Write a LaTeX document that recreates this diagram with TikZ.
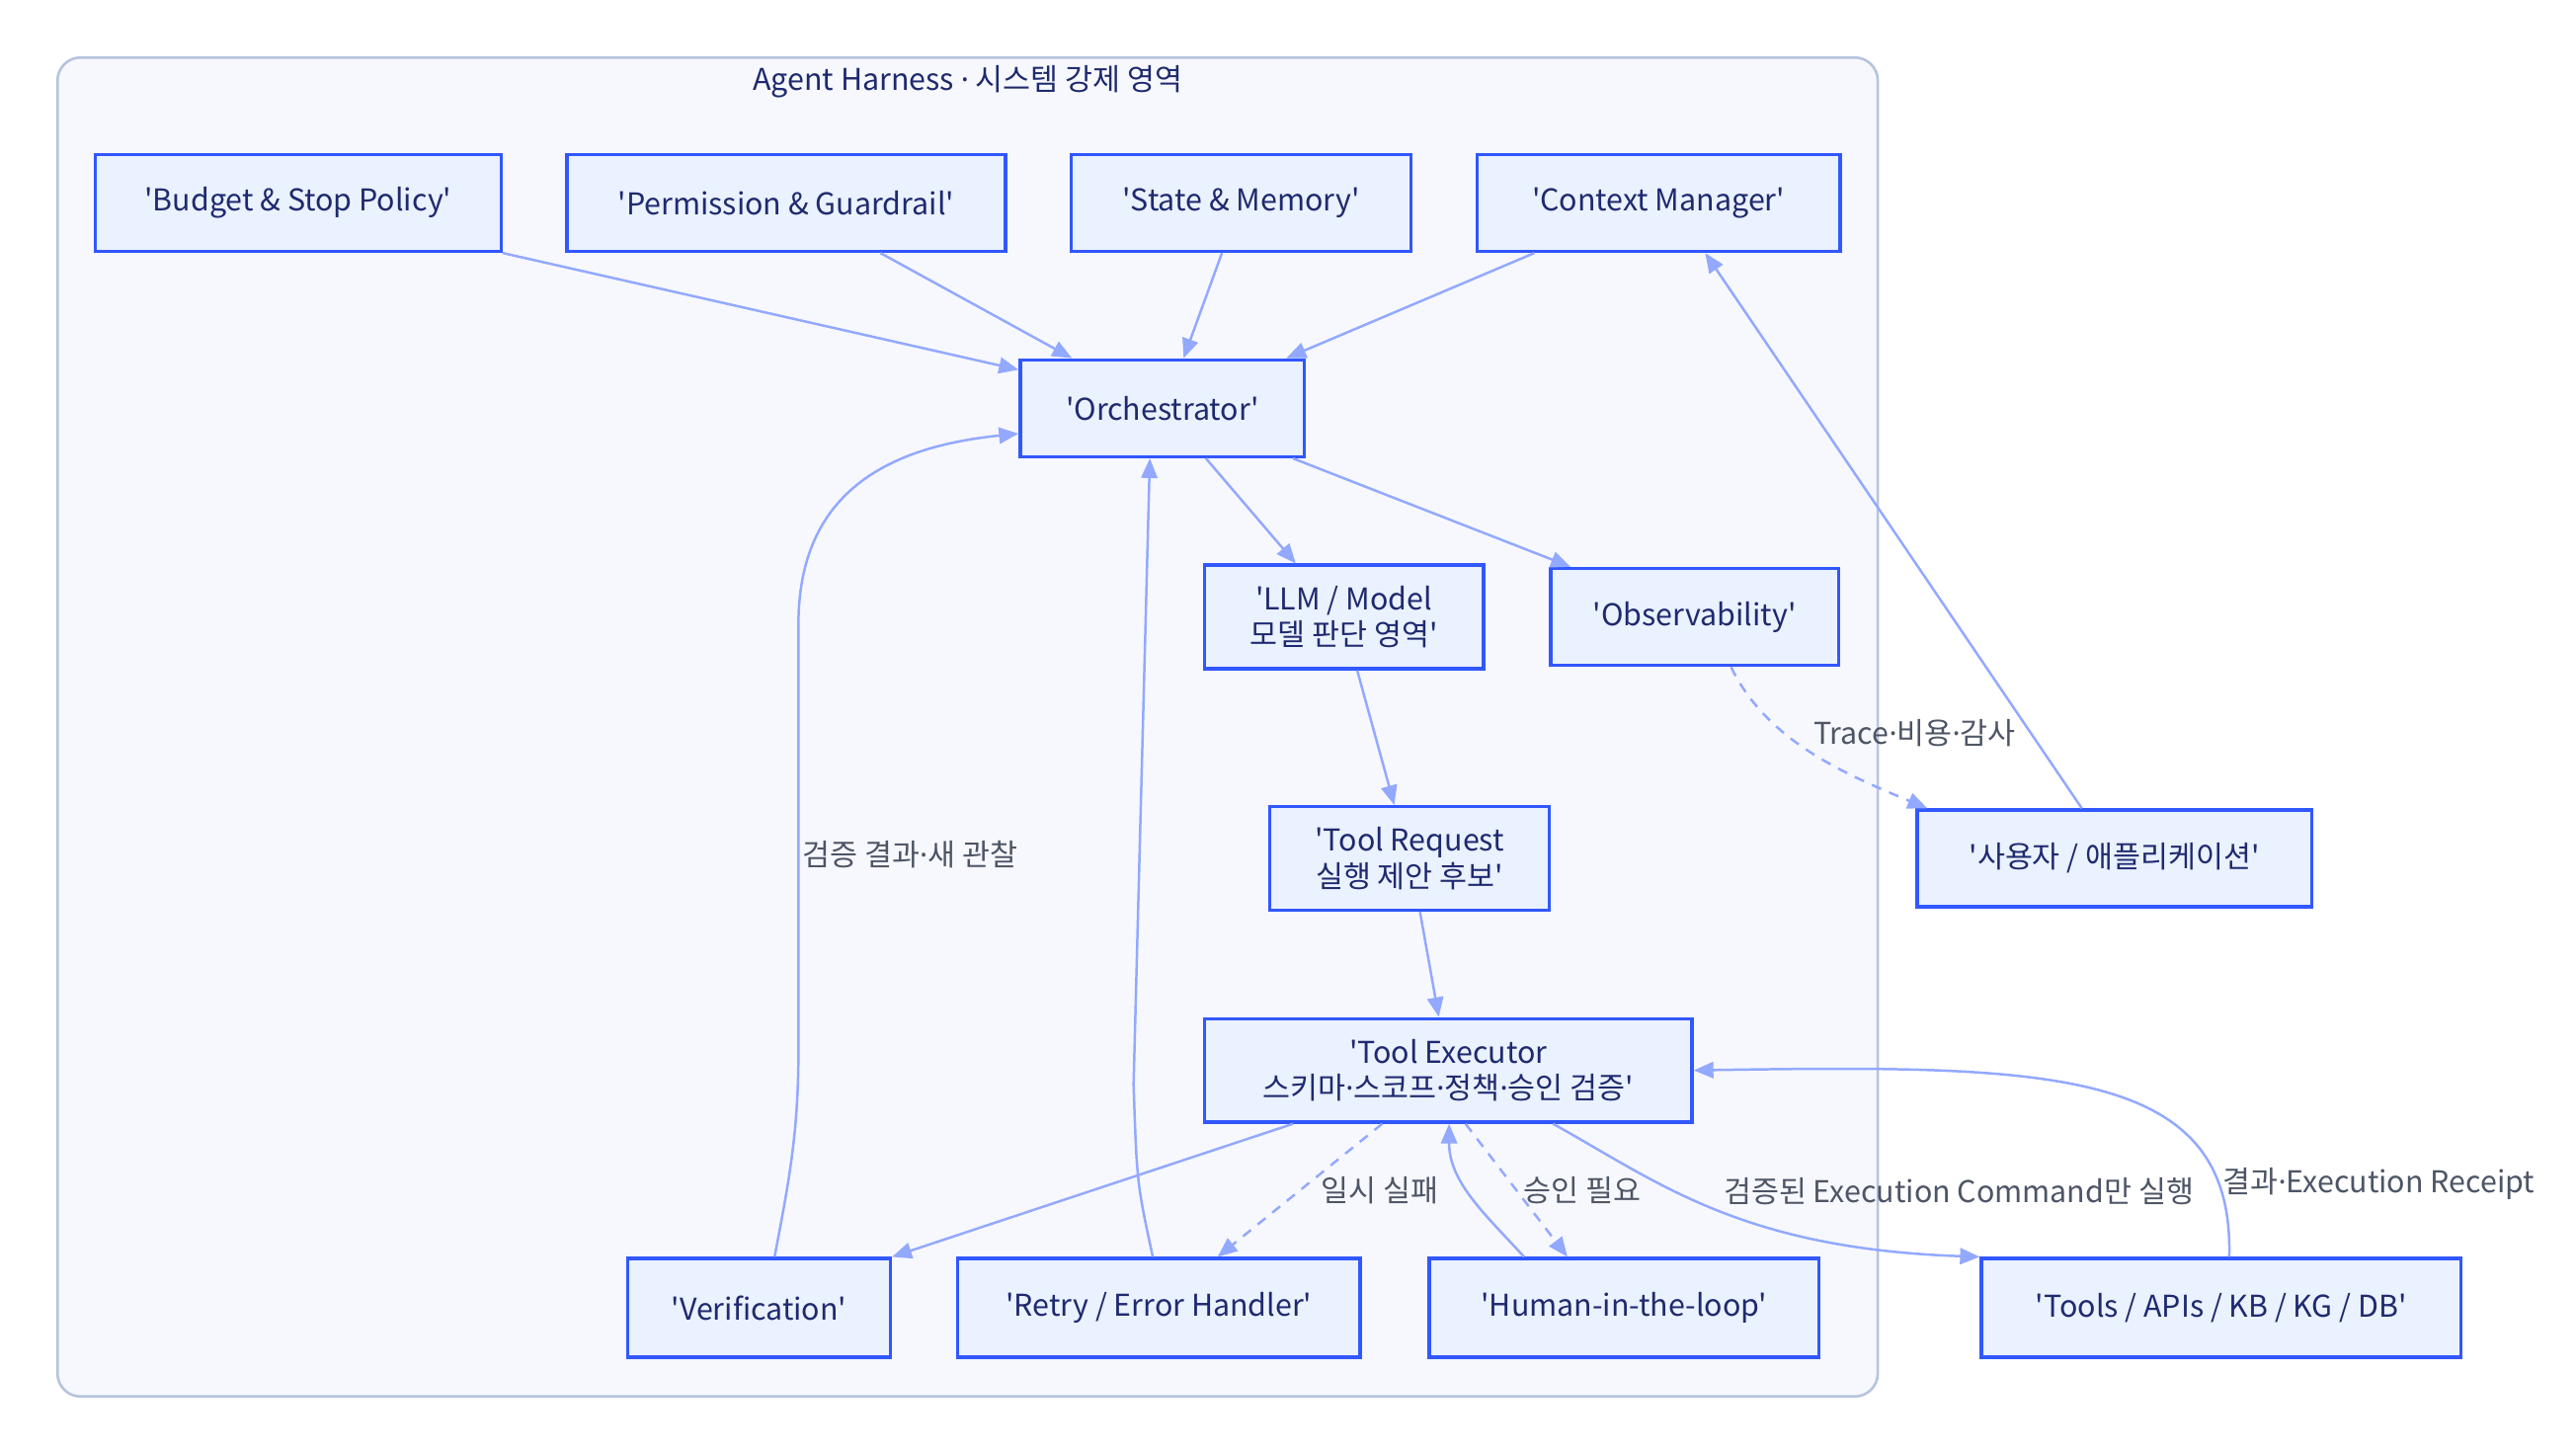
\documentclass[tikz,border=0pt]{standalone}
\usepackage{fontspec}
\newfontfamily\nsk{Noto Sans CJK KR}
\newfontfamily\lat{Noto Sans}
\newcommand\md{{\lat ·}}
\usetikzlibrary{arrows.meta}
\definecolor{boxfill}{HTML}{EAF1FF}
\definecolor{boxline}{HTML}{3157FF}
\definecolor{boxtext}{HTML}{1E2A6E}
\definecolor{edgecol}{HTML}{93A9FF}
\definecolor{labcol}{HTML}{4D5566}
\definecolor{areafill}{HTML}{F7F8FD}
\definecolor{arealine}{HTML}{B7C4DE}

\begin{document}
\begin{tikzpicture}[x=0.02cm, y=-0.02cm,
  font=\nsk\fontsize{10.4}{12.6}\selectfont,
  box/.style={draw=boxline, fill=boxfill, line width=1.15pt, text=boxtext, align=center, inner sep=0pt},
  sz/.style 2 args={minimum width=#1*0.2mm, minimum height=#2*0.2mm},
  flow/.style={draw=edgecol, line width=0.85pt, -{Triangle[length=6.8pt,width=5.6pt]}},
  dashflow/.style={flow, dash pattern=on 3.5pt off 3pt},
  lab/.style={text=labcol, inner sep=1pt}]
  \useasboundingbox (0,0) rectangle (1568,885);
  \fill[white] (0,0) rectangle (1568,885);

  % harness area
  \draw[draw=arealine, fill=areafill, line width=0.9pt, rounded corners=8pt] (35,35) rectangle (1143,850);
  \node[text=boxtext] (title) at (589,50) {Agent Harness \md{} 시스템 강제 영역};

  % top row
  \node[box, sz={247}{59}] (budget) at (181.5,123.5) {'Budget \& Stop Policy'};
  \node[box, sz={267}{59}] (perm) at (478.5,123.5) {'Permission \& Guardrail'};
  \node[box, sz={207}{59}] (state) at (755.5,123.5) {'State \& Memory'};
  \node[box, sz={221}{59}] (ctx) at (1009.5,123.5) {'Context Manager'};

  \node[box, sz={173}{59}] (orch) at (707.5,248.5) {'Orchestrator'};
  \node[box, sz={170}{63}] (llm) at (818,375.5) {'LLM / Model\\모델 판단 영역'};
  \node[box, sz={175}{59}] (obs) at (1031.5,375.5) {'Observability'};
  \node[box, sz={170}{63}] (treq) at (858,522.5) {'Tool Request\\실행 제안 후보'};
  \node[box, sz={240}{59}] (user) at (1287,522.5) {'사용자 / 애플리케이션'};
  \node[box, sz={297}{63}] (exec) at (881.5,651.5) {'Tool Executor\\스키마\md 스코프\md 정책\md 승인 검증'};

  % bottom row
  \node[box, sz={160}{60}] (verif) at (462,796) {'Verification'};
  \node[box, sz={245}{60}] (retry) at (705.5,796) {'Retry / Error Handler'};
  \node[box, sz={237}{60}] (human) at (988.5,796) {'Human-in-the-loop'};
  \node[box, sz={292}{60}] (tools) at (1352,796) {'Tools / APIs / KB / KG / DB'};

  % connectors
  \draw[flow] (budget.south east) -- (orch.165);
  \draw[flow] (perm.-28) -- (orch.151);
  \draw[flow] (state.-111) -- (orch.67);
  \draw[flow] (ctx.-158) -- (orch.22);
  \draw[flow] (user.123) -- (ctx.-47);
  \draw[flow] (orch.-49) -- (llm.132);
  \draw[flow] (orch.-21) -- (obs.158);
  \draw[dashflow] (obs.-54) .. controls (1075,450) and (1120,470) .. node[lab, pos=.5, anchor=south west] {Trace\md 비용\md 감사} (user.165);
  \draw[flow] (llm.-76) -- (treq.106);
  \draw[flow] (treq.-79) -- (exec.100);
  \draw[flow] (exec.-161) -- (verif.north east);
  \draw[dashflow] (exec.-141) -- node[lab, pos=.5, anchor=west, xshift=6pt] {일시 실패} (retry.41);
  \draw[dashflow] (exec.-72) -- node[lab, pos=.5, anchor=west, xshift=1pt] {승인 필요} (human.138);
  \draw[flow] (human.153) .. controls (905,740) and (882,720) .. (exec.-89);
  \draw[flow] (exec.-27) .. controls (1010,720) and (1060,760) .. node[lab, pos=.5, anchor=south west, xshift=1pt] {검증된 Execution Command만 실행} (tools.north west);
  \draw[flow] (tools.81) .. controls (1360,650) and (1250,648) .. node[lab, pos=.15, anchor=west] {결과\md Execution Receipt} (exec.east);
  \draw[flow] (verif.73) .. controls (480,720) and (486,690) .. (486,640) -- node[lab, pos=.46, anchor=west] {검증 결과\md 새 관찰} (486,380) .. controls (486,300) and (540,272) .. (orch.-170);
  \draw[flow] (retry.97) .. controls (692,720) .. (690,660) -- (orch.-104);
\end{tikzpicture}
\end{document}
